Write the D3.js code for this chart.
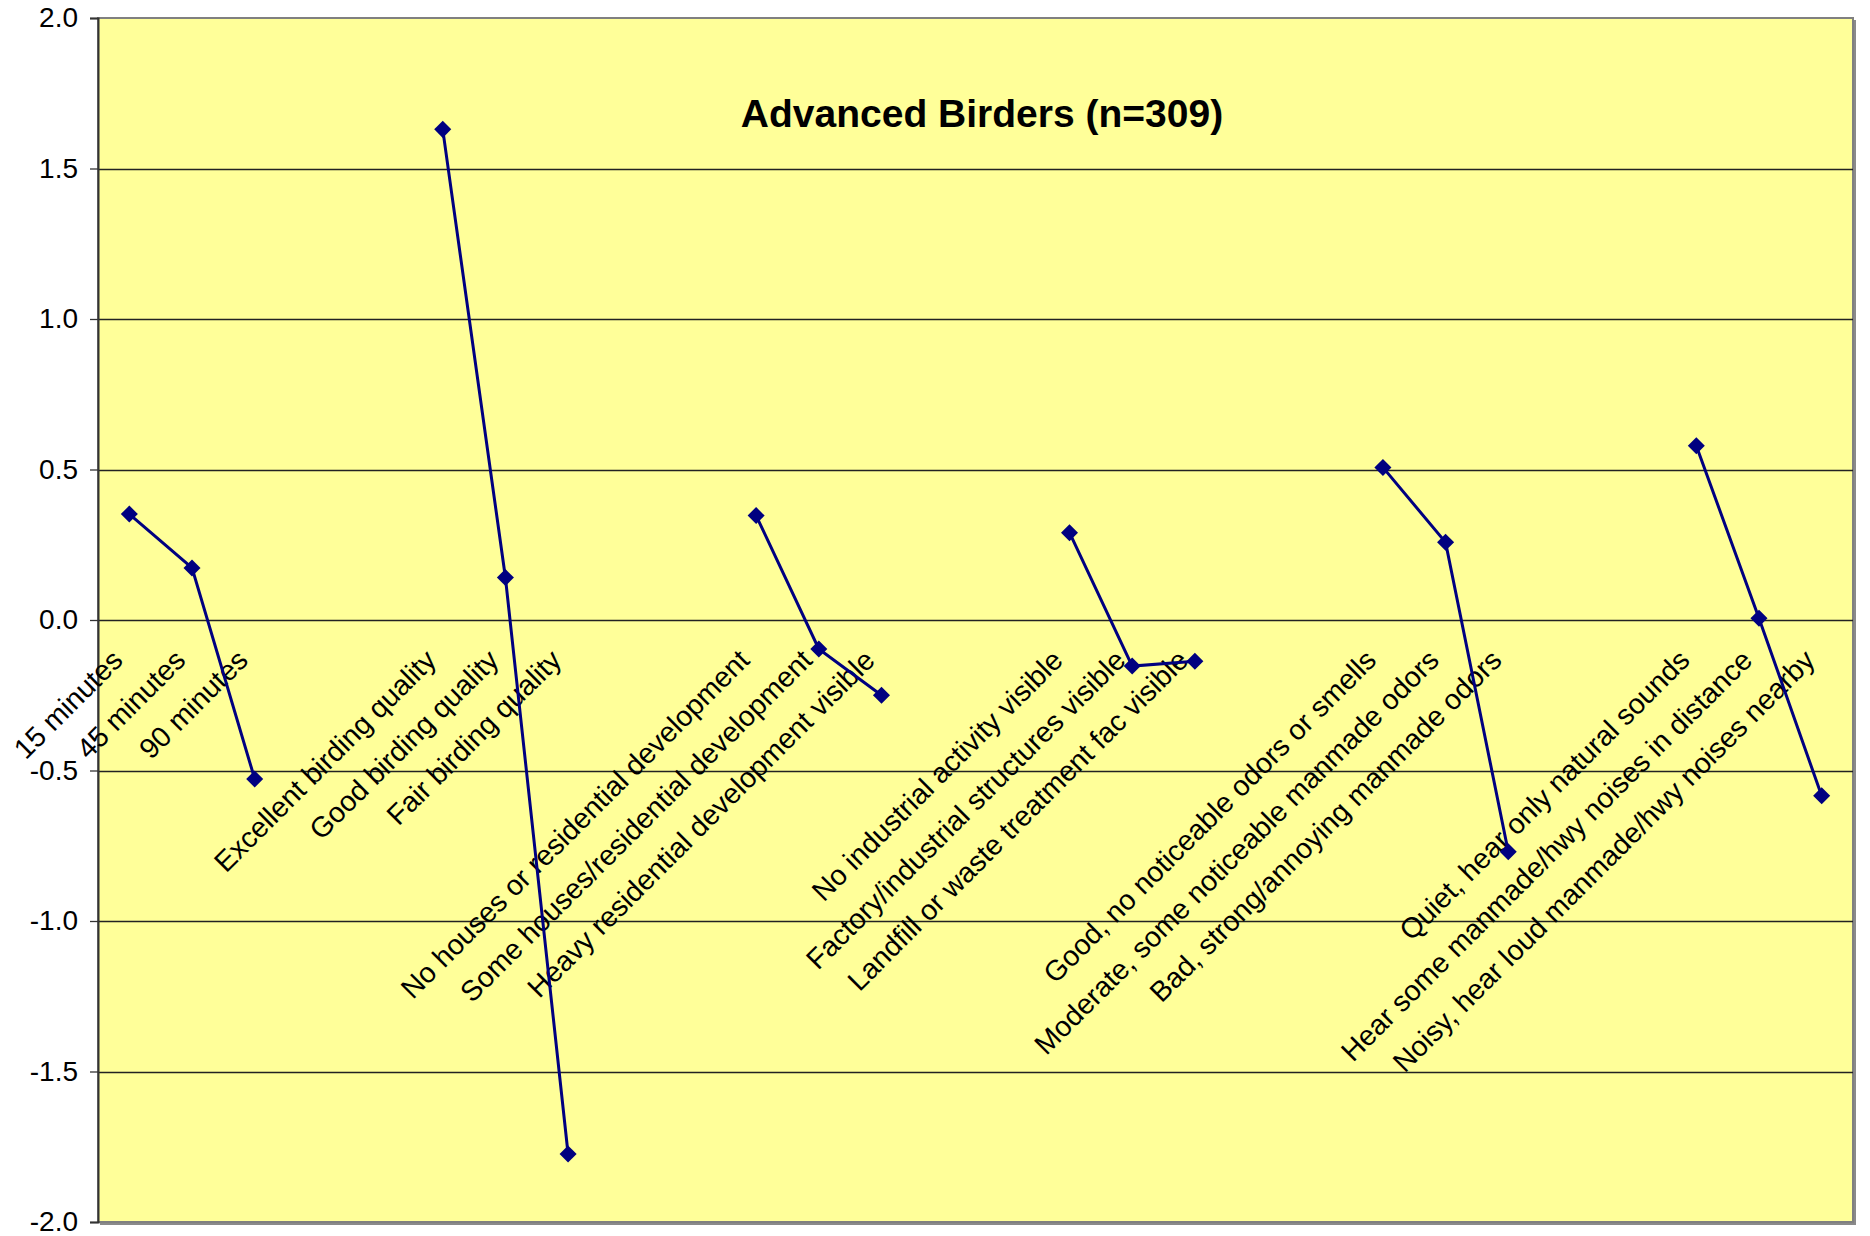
<!DOCTYPE html>
<html>
<head>
<meta charset="utf-8">
<script src="https://cdn.jsdelivr.net/npm/d3@7"></script>
<style>
  body { margin: 0; background: #ffffff; }
  svg text { font-family: "Liberation Sans", Arial, sans-serif; }
</style>
</head>
<body>
<div class="chartfield"></div>
<script>
var title = "Advanced Birders (n=309)";
// blank categories separate the groups, like the empty columns in the sheet
var categories = [
	"15 minutes", "45 minutes", "90 minutes", "", "",
	"Excellent birding quality", "Good birding quality", "Fair birding quality", "", "",
	"No houses or residential development", "Some houses/residential development", "Heavy residential development visible", "", "",
	"No industrial activity visible", "Factory/industrial structures visible", "Landfill or waste treatment fac visible", "", "",
	"Good, no noticeable odors or smells", "Moderate, some noticeable manmade odors", "Bad, strong/annoying manmade odors", "", "",
	"Quiet, hear only natural sounds", "Hear some manmade/hwy noises in distance", "Noisy, hear loud manmade/hwy noises nearby"
];
var values = [
	0.352, 0.173, -0.528, null, null,
	1.630, 0.141, -1.774, null, null,
	0.347, -0.096, -0.250, null, null,
	0.290, -0.153, -0.137, null, null,
	0.507, 0.258, -0.770, null, null,
	0.579, 0.006, -0.584
];
var yTicks = [-2.0, -1.5, -1.0, -0.5, 0.0, 0.5, 1.0, 1.5, 2.0];

var width = 1870;
var height = 1236;
var margin = {left: 98, top: 18, right: 17, bottom: 14};
var plotW = width - margin.left - margin.right;
var plotH = height - margin.top - margin.bottom;

var svg = d3.select(".chartfield")
	.append("svg")
	.attr("width", width)
	.attr("height", height);

var x = d3.scaleBand()
	.domain(d3.range(categories.length))
	.range([margin.left, margin.left + plotW]);
var y = d3.scaleLinear()
	.domain([-2, 2])
	.range([margin.top + plotH, margin.top]);

// plot area with grey shadow on right / bottom
svg.append("rect")
	.attr("x", margin.left + 2).attr("y", margin.top + 2)
	.attr("width", plotW + 1).attr("height", plotH + 1)
	.attr("fill", "#8a8a8a");
svg.append("rect")
	.attr("x", margin.left).attr("y", margin.top)
	.attr("width", plotW).attr("height", plotH)
	.attr("fill", "#FFFF99")
	.attr("stroke", "#808080")
	.attr("stroke-width", 2);

// gridlines
svg.append("g").selectAll("line")
	.data(yTicks.filter(function(d) { return d > -2 && d < 2; }))
	.enter().append("line")
	.attr("x1", margin.left).attr("x2", margin.left + plotW)
	.attr("y1", function(d) { return Math.round(y(d)) + 0.5; })
	.attr("y2", function(d) { return Math.round(y(d)) + 0.5; })
	.attr("stroke", "#222")
	.attr("stroke-width", 1.3);

// y axis
var yAxis = d3.axisLeft(y)
	.tickValues(yTicks)
	.tickFormat(function(d) { return d.toFixed(1); })
	.tickSize(8)
	.tickPadding(12);
var ag = svg.append("g")
	.attr("transform", "translate(" + margin.left + ",0)")
	.call(yAxis);
ag.select(".domain").attr("stroke", "#333").attr("stroke-width", 2);
ag.selectAll(".tick line").attr("stroke", "#333").attr("stroke-width", 1.3);
ag.selectAll(".tick text")
	.attr("font-size", 28)
	.attr("fill", "#000")
	.style("font-family", "'Liberation Sans', Arial, sans-serif");

// category labels, rotated, hanging under the zero line
svg.append("g").selectAll("text")
	.data(categories.map(function(c, i) { return {c: c, i: i}; }).filter(function(d) { return d.c != ""; }))
	.enter().append("text")
	.attr("transform", function(d) {
		var cx = x(d.i) + x.bandwidth() / 2;
		return "translate(" + (cx - 5) + "," + (y(0) + 42) + ") rotate(-45)";
	})
	.attr("text-anchor", "end")
	.attr("font-size", 28.5)
	.attr("fill", "#000")
	.text(function(d) { return d.c; });

// series line
var pts = values.map(function(v, i) { return {v: v, i: i}; });
var line = d3.line()
	.defined(function(d) { return d.v != null; })
	.x(function(d) { return x(d.i) + x.bandwidth() / 2; })
	.y(function(d) { return y(d.v); });
svg.append("path")
	.datum(pts)
	.attr("d", line)
	.attr("fill", "none")
	.attr("stroke", "#000080")
	.attr("stroke-width", 3);

// diamond markers
svg.append("g").selectAll("path")
	.data(pts.filter(function(d) { return d.v != null; }))
	.enter().append("path")
	.attr("d", d3.symbol().type(d3.symbolSquare).size(145))
	.attr("transform", function(d) {
		return "translate(" + (x(d.i) + x.bandwidth() / 2) + "," + y(d.v) + ") rotate(45)";
	})
	.attr("fill", "#000080");

// title
svg.append("text")
	.attr("x", 982)
	.attr("y", 127)
	.attr("text-anchor", "middle")
	.attr("font-size", 39)
	.attr("font-weight", "bold")
	.attr("fill", "#000")
	.text(title);
</script>
</body>
</html>
